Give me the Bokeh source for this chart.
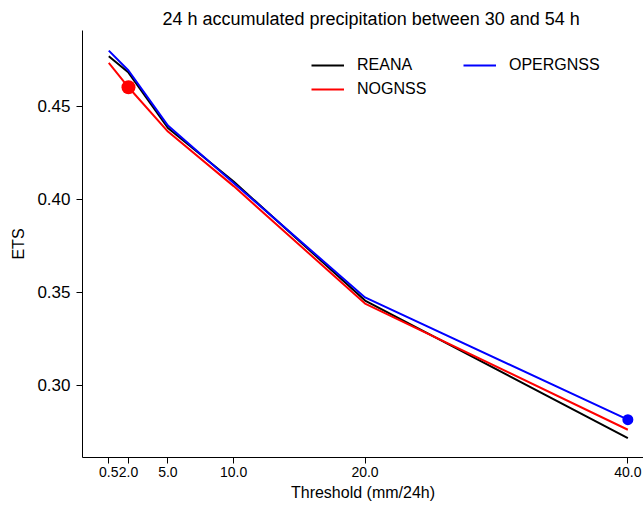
from bokeh.plotting import figure
from bokeh.models import Range1d, FixedTicker, PrintfTickFormatter, Legend, LegendItem
from bokeh.embed import file_html
from bokeh.resources import INLINE

# ---- data ----
thresholds = [0.5, 2.0, 5.0, 10.0, 20.0, 40.0]
reana = [0.4769, 0.4681, 0.4383, 0.4096, 0.3456, 0.2717]
nognss = [0.4733, 0.4602, 0.4364, 0.4071, 0.3440, 0.2762]
opergnss = [0.4799, 0.4692, 0.4396, 0.4088, 0.3473, 0.2816]
x_ticks = [0.5, 2.0, 5.0, 10.0, 20.0, 40.0]
y_ticks = [0.30, 0.35, 0.40, 0.45]
title_text = "24 h accumulated precipitation between 30 and 54 h"
x_label = "Threshold (mm/24h)"
y_label = "ETS"
series_names = ["REANA", "NOGNSS", "OPERGNSS"]
series_colors = ["#000000", "#ff0000", "#0000ff"]

FONT = "Liberation Sans"

p = figure(width=643, height=506, output_backend="svg", toolbar_location=None,
           x_range=Range1d(-1.50, 41.19), y_range=Range1d(0.2613, 0.4907),
           min_border_left=82, min_border_right=0, min_border_top=30, min_border_bottom=49)

p.title.text = title_text
p.title.text_font = FONT
p.title.text_font_size = "18px"
p.title.text_font_style = "normal"
p.title.text_color = "#000000"
p.title.align = "left"
p.title.offset = 80
p.title.standoff = 3

p.outline_line_color = None
p.xgrid.visible = False
p.ygrid.visible = False
p.background_fill_color = "white"
p.border_fill_color = "white"

for ax in (p.xaxis[0], p.yaxis[0]):
    ax.axis_line_color = "#000000"
    ax.axis_line_width = 1
    ax.major_tick_line_color = "#000000"
    ax.major_tick_out = 6
    ax.major_tick_in = 0
    ax.minor_tick_line_color = None
    ax.major_label_text_font = FONT
    ax.major_label_text_color = "#000000"
    ax.axis_label_text_font = FONT
    ax.axis_label_text_font_style = "normal"
    ax.axis_label_text_font_size = "16px"
    ax.axis_label_text_color = "#000000"

p.xaxis[0].ticker = FixedTicker(ticks=x_ticks)
p.xaxis[0].formatter = PrintfTickFormatter(format="%.1f")
p.xaxis[0].major_label_text_font_size = "14px"
p.xaxis[0].major_label_standoff = 3
p.xaxis[0].axis_label = x_label
p.xaxis[0].axis_label_standoff = 4

p.yaxis[0].ticker = FixedTicker(ticks=y_ticks)
p.yaxis[0].formatter = PrintfTickFormatter(format="%.2f")
p.yaxis[0].major_label_text_font_size = "17px"
p.yaxis[0].major_label_standoff = 6
p.yaxis[0].axis_label = y_label
p.yaxis[0].axis_label_standoff = 7

renderers = []
for vals, col in zip([reana, nognss, opergnss], series_colors):
    r = p.line(thresholds, vals, line_color=col, line_width=2)
    renderers.append(r)

# highlighted points
p.scatter([thresholds[1]], [nognss[1]], size=14, color=series_colors[1], line_color=None)
p.scatter([thresholds[-1]], [opergnss[-1]], size=11, color=series_colors[2], line_color=None)

def make_legend(items, loc):
    lg = Legend(items=items, location=loc, orientation="vertical",
                border_line_color=None, background_fill_alpha=0,
                padding=0, margin=0, spacing=4, glyph_width=33, glyph_height=20,
                label_height=20, label_standoff=13,
                label_text_font=FONT, label_text_font_size="16px", label_text_color="#000000")
    p.add_layout(lg, "center")

# location = bottom-left corner of each legend, in pixels from the frame's bottom-left
make_legend([LegendItem(label=series_names[0], renderers=[renderers[0]]),
             LegendItem(label=series_names[1], renderers=[renderers[1]])], (229, 358))
make_legend([LegendItem(label=series_names[2], renderers=[renderers[2]])], (381, 382))

open("out.html", "w").write(file_html(p, INLINE))
